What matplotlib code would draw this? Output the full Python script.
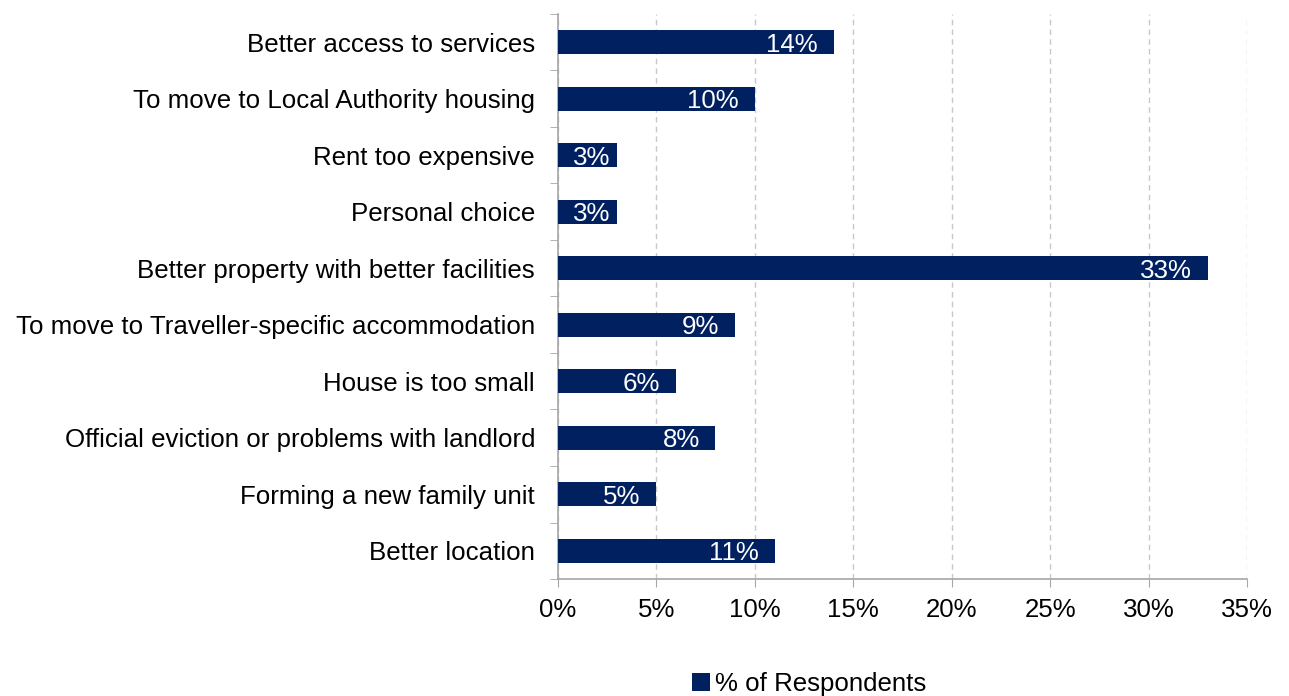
import matplotlib.pyplot as plt
import numpy as np

plt.rcParams['font.family'] = ['Liberation Sans', 'DejaVu Sans']

reasons = ['Better access to services', 'To move to Local Authority housing',
           'Rent too expensive', 'Personal choice',
           'Better property with better facilities',
           'To move to Traveller-specific accommodation', 'House is too small',
           'Official eviction or problems with landlord',
           'Forming a new family unit', 'Better location']
pct = [14, 10, 3, 3, 33, 9, 6, 8, 5, 11]
xticks = [0, 5, 10, 15, 20, 25, 30, 35]

navy = '#002060'
grey = '#a6a6a6'
fs = 18.6

fig = plt.figure(figsize=(12.89, 6.96), dpi=100)
ax = fig.add_axes([0.4329, 0.1681, 0.5345, 0.8118])

y = np.arange(len(reasons))
bars = ax.barh(y, pct, height=0.43, color=navy, label='% of Respondents', zorder=3)
for b, v in zip(bars, pct):
    # short bars: label squeezed toward the end (Excel inside-end)
    off = 0.8 if v > 4 else 0.35
    ax.text(b.get_width() - off, b.get_y() + b.get_height() / 2, '%d%%' % v,
            color='white', ha='right', va='center_baseline', fontsize=fs, zorder=4)

ax.set_ylim(len(reasons) - 0.5, -0.5)
ax.set_xlim(0, 35)
ax.set_xticks(xticks)
ax.set_xticklabels(['%d%%' % t for t in xticks], fontsize=fs)
ax.set_yticks(y)
ax.set_yticklabels(reasons, fontsize=fs)
ax.tick_params(axis='y', length=0, pad=16.5)
ax.set_yticks(np.arange(len(reasons) + 1) - 0.5, minor=True)
ax.tick_params(axis='y', which='minor', length=6, color=grey, direction='out')
ax.tick_params(axis='x', length=6, color=grey, direction='out', pad=8)

ax.grid(axis='x', linestyle=(0, (4, 3)), color='#c8c8c8', linewidth=1, zorder=0)
for s in ['top', 'right']:
    ax.spines[s].set_visible(False)
ax.spines['left'].set_color(grey)
ax.spines['bottom'].set_color(grey)
ax.spines['left'].set_linewidth(1.2)
ax.spines['bottom'].set_linewidth(1.2)

fig.legend(loc='center', bbox_to_anchor=(0.628, 0.017), frameon=False,
           fontsize=fs, handlelength=0.7, handleheight=0.7, handletextpad=0.2)

fig.savefig('out.png', dpi=100)
